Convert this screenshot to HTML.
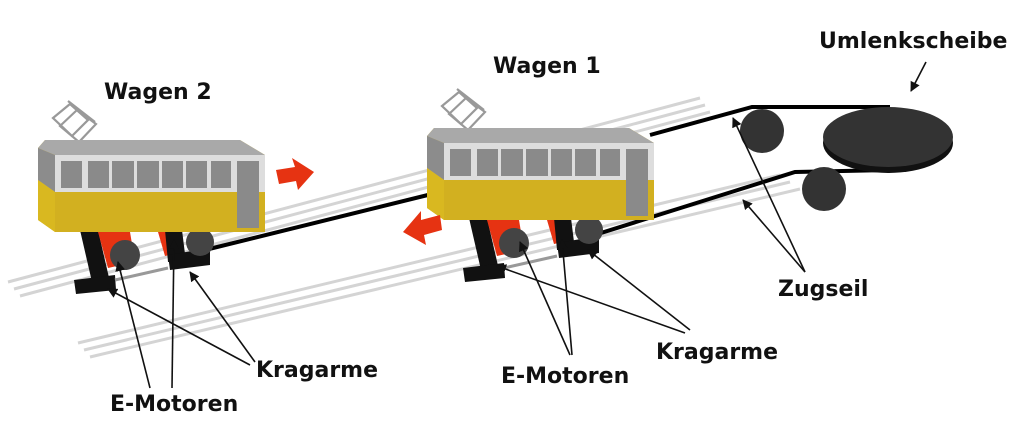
<!DOCTYPE html>
<html><head><meta charset="utf-8"><style>
html,body{margin:0;padding:0;background:#fff;}
svg{display:block}
text{font-family:"DejaVu Sans","Liberation Sans",sans-serif;font-weight:bold;font-size:22px;fill:#111}
</style></head><body>
<svg width="1024" height="447" viewBox="0 0 1024 447" xmlns="http://www.w3.org/2000/svg">
<defs>
<marker id="ah" markerWidth="10" markerHeight="10" refX="9" refY="5" orient="auto" markerUnits="userSpaceOnUse" viewBox="0 0 10 10">
<path d="M0,0 L10,5 L0,10 z" fill="#111"/></marker>
<g id="tram">
 <g fill="none" stroke="#999" stroke-width="2.2">
  <path d="M53,118 L70,104 L88,120 L72,136 z"/><path d="M60,126 L77,110 L96,124 L79,142 z"/>
  <line x1="68" y1="101" x2="95" y2="122"/>
 </g>
 <path d="M80,230 L98,230 L110,282 L92,282 z" fill="#111"/>
 <path d="M74,280 L115,275 L116,290 L76,294 z" fill="#111"/>
 <path d="M98,232 L130,232 L135,262 L108,268 z" fill="#e63312"/>
 <path d="M158,232 L178,232 L182,252 L165,256 z" fill="#e63312"/>
 <path d="M165,230 L182,230 L186,262 L168,262 z" fill="#111"/>
 <path d="M168,255 L210,248 L210,265 L170,270 z" fill="#111"/>
 <circle cx="125" cy="255" r="15" fill="#444"/>
 <circle cx="200" cy="242" r="14" fill="#444"/>
 <line x1="115" y1="280" x2="168" y2="268" stroke="#999" stroke-width="3"/>
 <path d="M38,148 L45,140 L240,140 L265,155 L265,232 L55,232 L38,220 z" fill="#e3c12b"/>
 <path d="M38,148 L45,140 L240,140 L265,155 L55,155 z" fill="#a9a9a9"/>
 <path d="M55,155 L265,155 L265,192 L55,192 z" fill="#ddd"/>
 <path d="M38,148 L55,155 L55,192 L38,180 z" fill="#8c8c8c"/>
 <path d="M38,180 L55,192 L55,232 L38,220 z" fill="#d9b820"/>
 <path d="M55,192 L265,192 L265,232 L55,232 z" fill="#d2b020"/>
 <g fill="#8a8a8a">
  <rect x="61" y="161" width="21" height="27"/><rect x="88" y="161" width="21" height="27"/>
  <rect x="112" y="161" width="22" height="27"/><rect x="137" y="161" width="22" height="27"/>
  <rect x="162" y="161" width="21" height="27"/><rect x="186" y="161" width="21" height="27"/>
  <rect x="211" y="161" width="20" height="27"/><rect x="237" y="161" width="22" height="67"/>
 </g>
</g>
</defs>

<g stroke="#d4d4d4" stroke-width="3" fill="none">
 <line x1="8" y1="282" x2="700" y2="98"/>
 <line x1="14" y1="289" x2="705" y2="105"/>
 <line x1="20" y1="296" x2="710" y2="112"/>
 <line x1="78" y1="343" x2="780" y2="175"/>
 <line x1="84" y1="350" x2="790" y2="182"/>
 <line x1="90" y1="357" x2="800" y2="189"/>
</g>

<g stroke="#000" stroke-width="4" fill="none">
 <line x1="205" y1="250" x2="440" y2="192"/>
 <path d="M650,135 L752,107 L890,107"/>
 <path d="M585,238 L795,172 L890,170"/>
</g>
<circle cx="762" cy="131" r="22" fill="#333"/>
<circle cx="824" cy="189" r="22" fill="#333"/>
<ellipse cx="888" cy="143" rx="65" ry="30" fill="#111"/>
<ellipse cx="888" cy="137" rx="65" ry="30" fill="#333"/>

<use href="#tram"/>
<use href="#tram" transform="translate(389,-12)"/>

<path d="M276,170 L295,167 L292,158 L314,172 L298,190 L296,181 L279,184 z" fill="#e63312"/>
<path d="M440,215 L421,220 L421,211 L403,232 L426,245 L424,235 L442,230 z" fill="#e63312"/>

<g stroke="#111" stroke-width="1.6" marker-end="url(#ah)">
 <line x1="150" y1="388" x2="118" y2="262"/>
 <line x1="172" y1="388" x2="174" y2="240"/>
 <line x1="255" y1="362" x2="190" y2="272"/>
 <line x1="250" y1="365" x2="108" y2="289"/>
 <line x1="570" y1="355" x2="520" y2="242"/>
 <line x1="572" y1="355" x2="562" y2="240"/>
 <line x1="690" y1="330" x2="588" y2="250"/>
 <line x1="685" y1="333" x2="497" y2="266"/>
 <line x1="805" y1="272" x2="733" y2="118"/>
 <line x1="805" y1="272" x2="743" y2="200"/>
 <line x1="926" y1="62" x2="911" y2="91"/>
</g>

<text x="104" y="99">Wagen 2</text>
<text x="493" y="73">Wagen 1</text>
<text x="819" y="48">Umlenkscheibe</text>
<text x="778" y="296">Zugseil</text>
<text x="256" y="377">Kragarme</text>
<text x="656" y="359">Kragarme</text>
<text x="110" y="411">E-Motoren</text>
<text x="501" y="383">E-Motoren</text>
</svg>
</body></html>
